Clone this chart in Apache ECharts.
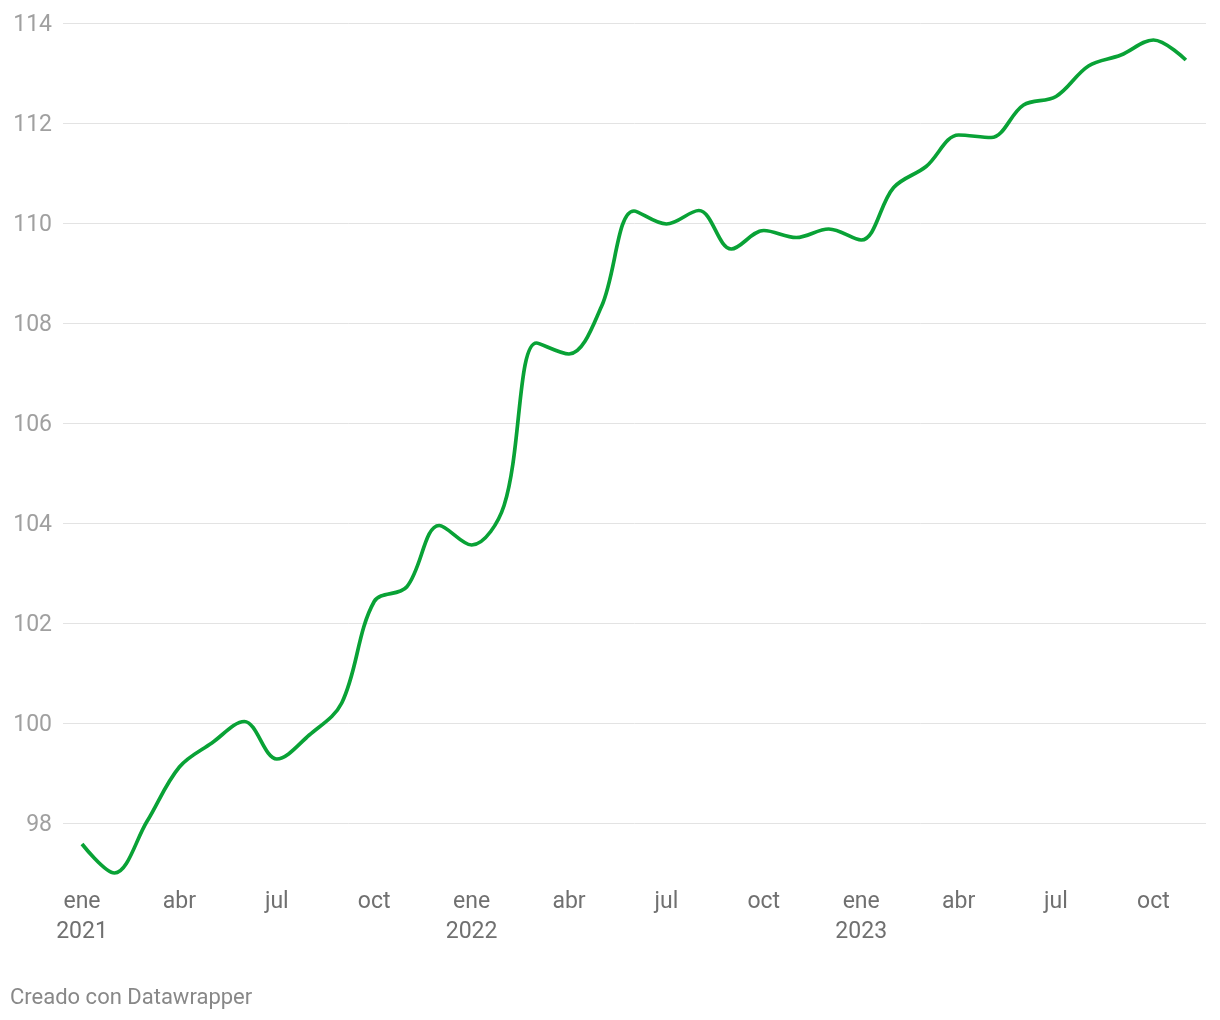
<!DOCTYPE html>
<html>
<head>
<meta charset="utf-8">
<style>
html,body{margin:0;padding:0;background:#fff;}
#c{width:1220px;height:1020px;}
</style>
<script src="https://cdn.jsdelivr.net/npm/echarts@6/dist/echarts.min.js"></script>
</head>
<body>
<div id="c"></div>
<script>
// Monthly index, Jan 2021 .. Nov 2023
const months = ['ene','feb','mar','abr','may','jun','jul','ago','sep','oct','nov','dic'];
const startYear = 2021;
const values = [
  97.58, 97.00, 98.03, 99.12, 99.60, 100.03, 99.28, 99.76, 100.40, 102.43, 102.72, 103.95,
  103.56, 104.35, 107.60, 107.38, 108.33, 110.24, 109.98, 110.25, 109.48, 109.85, 109.71, 109.88,
  109.66, 110.71, 111.13, 111.76, 111.71, 112.36, 112.53, 113.14, 113.36, 113.66, 113.26
];
const yTicks = [98, 100, 102, 104, 106, 108, 110, 112, 114];
const xTickIdx = [0, 3, 6, 9, 12, 15, 18, 21, 24, 27, 30, 33];
const footer = 'Creado con Datawrapper';

const data = values.map((v, i) => [i, v]);
function xLabel(i) {
  const m = months[i % 12];
  const y = startYear + Math.floor(i / 12);
  return (i % 12 === 0) ? m + '\n' + y : m;
}

const chart = echarts.init(document.getElementById('c'), null, {renderer: 'canvas'});
chart.setOption({
  animation: false,
  backgroundColor: '#ffffff',
  textStyle: {fontFamily: 'Roboto'},
  grid: {left: 63, right: 14, top: 23, bottom: 1020 - 883, containLabel: false},
  xAxis: {
    type: 'value',
    min: -0.585,
    max: 34.62,
    axisLine: {show: false},
    axisTick: {show: false, customValues: xTickIdx},
    splitLine: {show: false},
    axisLabel: {
      customValues: xTickIdx,
      formatter: v => xLabel(Math.round(v)),
      color: '#707070',
      fontSize: 23,
      fontFamily: 'Roboto',
      lineHeight: 30,
      margin: 4,
      verticalAlign: 'top'
    }
  },
  yAxis: {
    type: 'value',
    min: 96.8,
    max: 114,
    axisLine: {show: false},
    axisTick: {show: false, customValues: yTicks},
    splitLine: {show: true, lineStyle: {color: '#e3e3e3', width: 1}},
    axisLabel: {
      customValues: yTicks,
      color: '#a0a0a0',
      fontSize: 23,
      fontFamily: 'Roboto',
      margin: 11,
      formatter: v => '{a|' + v + '}',
      rich: {
        a: {color: '#a0a0a0', fontSize: 23, fontFamily: 'Roboto', padding: [5, 0, 0, 0]}
      }
    }
  },
  series: [{
    type: 'line',
    data: data,
    smooth: 0.35,
    symbol: 'none',
    lineStyle: {color: '#09a236', width: 3.7},
    z: 5
  }],
  graphic: [{
    type: 'text',
    left: 10,
    top: 987,
    style: {text: footer, fill: '#888888', fontSize: 22, fontFamily: 'Roboto'}
  }]
});
</script>
</body>
</html>
